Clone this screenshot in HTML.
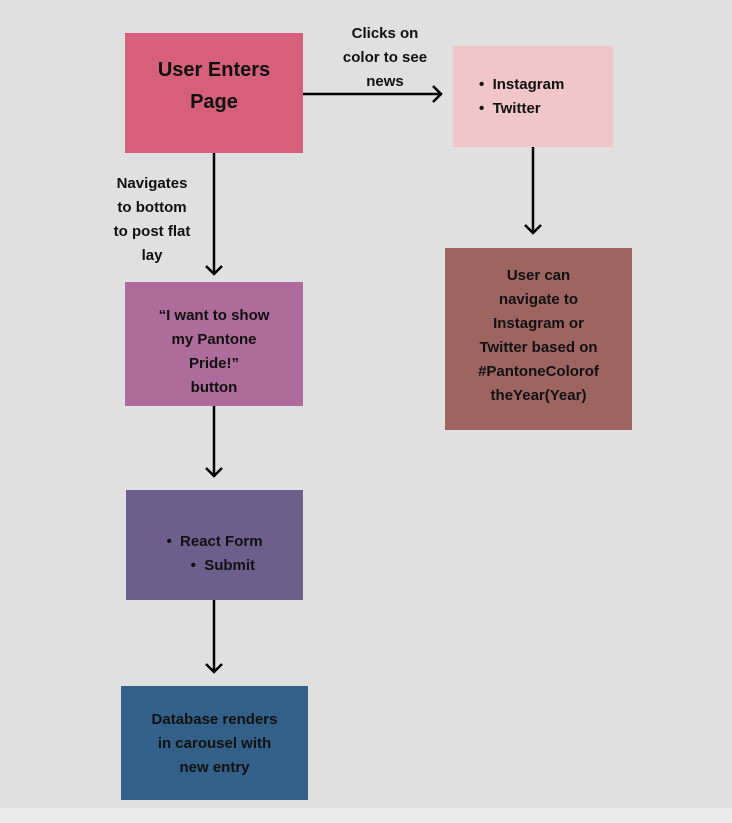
<!DOCTYPE html>
<html><head><style>
body{margin:0;width:732px;height:823px;background:#e0e0e0;position:relative;overflow:hidden;font-family:"Liberation Sans",sans-serif;font-weight:bold;color:#111}
.b{position:absolute;display:flex;align-items:center;justify-content:center;text-align:center;font-size:15px;line-height:24px;box-sizing:border-box}
.t{position:absolute;text-align:center;font-size:15px;line-height:24px}
</style></head><body>
<div style="position:absolute;left:0;top:808px;width:732px;height:15px;background:#e9e9e9"></div>
<div class="b" style="left:125px;top:33px;width:178px;height:120px;background:#d6607a;font-size:20px;line-height:32px;padding-bottom:14px">User Enters<br>Page</div>
<div class="b" style="left:453px;top:46px;width:160px;height:101px;background:#f0c6c9;justify-content:flex-start;padding-left:26px;text-align:left">•&nbsp; Instagram<br>•&nbsp; Twitter</div>
<div class="b" style="left:445px;top:248px;width:187px;height:182px;background:#9e6460;padding-bottom:6px">User can<br>navigate to<br>Instagram or<br>Twitter based on<br>#PantoneColorof<br>theYear(Year)</div>
<div class="b" style="left:125px;top:282px;width:178px;height:124px;background:#ad6c9c;padding-top:16px">“I want to show<br>my Pantone<br>Pride!”<br>button</div>
<div class="b" style="left:126px;top:490px;width:177px;height:110px;background:#6d5f8c;padding-top:18px">•&nbsp; React Form<br>&nbsp;&nbsp;&nbsp;&nbsp;•&nbsp; Submit</div>
<div class="b" style="left:121px;top:686px;width:187px;height:114px;background:#336088;padding-top:2px">Database renders<br>in carousel with<br>new entry</div>
<div class="t" style="left:330px;top:22px;width:110px">Clicks on<br>color to see<br>news</div>
<div class="t" style="left:100px;top:172px;width:104px">Navigates<br>to bottom<br>to post flat<br>lay</div>
<svg width="732" height="823" style="position:absolute;left:0;top:0" fill="none" stroke="#000" stroke-width="2.5">
<path d="M303 94H441M433 86L441 94L433 102"/>
<path d="M214 153V274M206 266L214 274L222 266"/>
<path d="M214 406V476M206 468L214 476L222 468"/>
<path d="M214 600V672M206 664L214 672L222 664"/>
<path d="M533 147V233M525 225L533 233L541 225"/>
</svg>
</body></html>
